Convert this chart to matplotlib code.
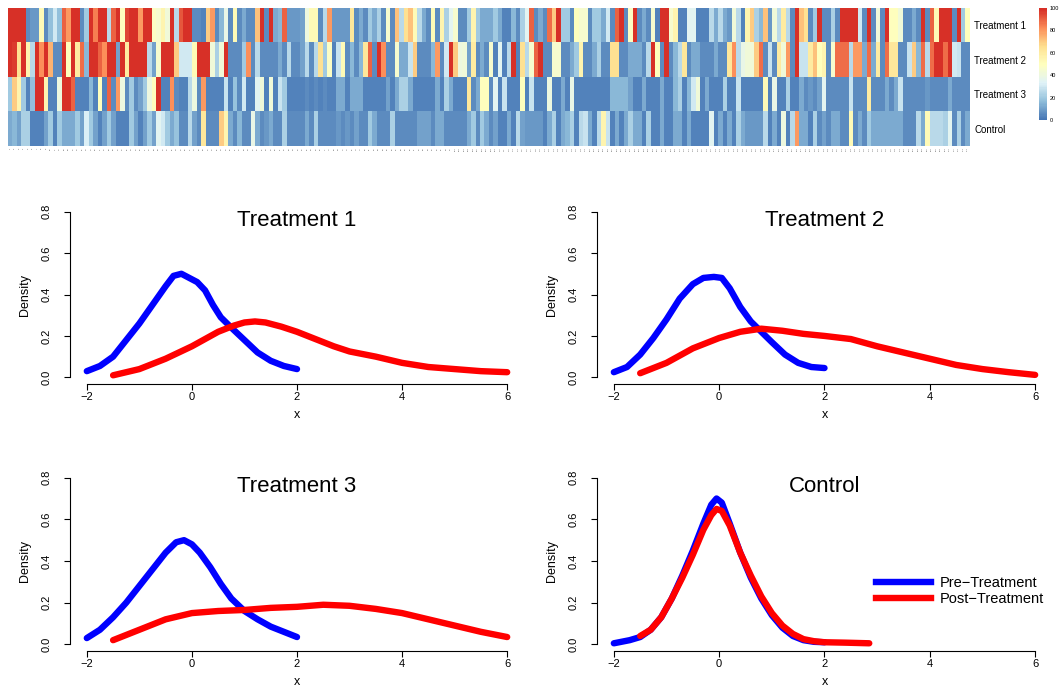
import matplotlib
matplotlib.use("Agg")
import matplotlib.pyplot as plt
import numpy as np
from matplotlib.colors import LinearSegmentedColormap
from matplotlib.lines import Line2D

plt.rcParams['font.family'] = ['Liberation Sans', 'DejaVu Sans']

# ---------------- heatmap data ----------------
row_names = ["Treatment 1", "Treatment 2", "Treatment 3", "Control"]

t1 = [100,100,100,100,5,8,8,52,5,17,30,17,90,80,100,100,5,20,100,85,100,100,25,90,100,50,95,100,100,80,100,100,48,45,55,42,
      100,25,92,100,100,5,5,3,70,80,5,15,38,5,52,5,12,5,5,72,100,5,100,12,15,90,8,8,8,10,40,52,52,5,25,80,
      8,8,8,8,62,5,12,5,20,12,22,5,45,5,72,25,65,72,52,25,12,5,52,5,55,22,35,45,5,5,20,55,20,12,12,12,
      20,12,3,3,15,5,22,35,90,5,12,5,88,70,100,20,20,5,50,45,45,5,20,20,12,30,5,90,100,5,48,100,5,12,5,45,
      3,100,100,45,55,3,3,35,35,3,3,3,25,12,25,12,8,42,25,3,55,70,22,15,72,8,42,25,60,25,5,100,72,65,5,20,
      100,5,5,22,5,100,100,100,100,30,5,100,5,42,5,100,50,50,42,5,5,12,5,100,5,90,52,100,100,100,5,100,20,50]
t2 = [100,97,65,100,55,25,100,82,100,75,5,5,100,50,100,60,88,15,100,100,90,82,100,100,10,100,60,100,100,100,100,25,10,45,100,100,
      100,70,30,30,30,52,100,100,100,42,22,42,100,5,5,5,20,82,5,25,5,5,5,5,12,5,25,5,5,10,25,5,25,65,20,48,
      3,28,52,5,15,5,15,62,90,5,100,82,5,5,45,12,12,28,70,5,5,5,15,80,5,30,100,70,40,42,10,60,5,12,5,45,
      3,35,3,25,100,3,65,25,45,90,100,5,5,45,45,5,5,12,20,55,5,5,12,22,5,5,65,65,5,5,12,12,12,5,25,100,
      50,5,100,5,15,25,62,5,12,12,5,5,5,12,5,5,62,82,25,38,42,42,70,88,5,28,5,60,42,80,5,100,28,28,60,72,
      50,55,5,45,88,88,88,25,80,80,12,88,12,60,5,88,62,62,5,5,28,70,15,88,25,88,100,100,88,100,30,28,5,5]
t3 = [20,70,55,20,3,17,100,100,55,3,3,40,100,100,90,3,3,3,15,3,50,3,90,5,80,40,5,20,5,10,20,40,50,100,3,3,
      82,5,3,3,25,40,5,80,3,3,3,3,28,3,18,5,30,3,3,35,42,3,42,3,28,20,3,3,3,3,5,3,5,3,5,3,
      3,12,12,3,12,12,12,3,3,3,3,3,10,3,12,22,22,12,3,3,3,3,3,12,3,22,12,3,3,3,62,5,12,50,50,5,
      35,3,28,3,3,3,50,3,28,3,3,3,40,3,3,12,3,38,3,3,3,3,3,3,3,3,15,15,15,15,10,3,3,12,3,3,
      3,12,3,3,15,22,3,15,30,42,3,12,3,3,3,22,3,3,28,3,3,3,3,3,52,3,38,3,3,22,3,3,12,5,8,5,
      10,35,5,5,5,5,5,28,5,5,5,60,5,5,5,12,5,12,28,5,5,5,5,5,8,5,5,5,5,12,5,5,5,5]
control = [12,15,10,22,22,3,3,3,10,20,3,20,12,12,12,20,10,32,20,10,3,10,20,10,3,3,3,20,10,3,10,20,10,35,30,20,
           12,18,5,5,25,10,5,62,5,5,5,70,55,12,5,15,5,5,38,12,5,8,12,5,5,22,5,5,5,5,12,5,22,5,5,5,
           5,8,5,8,5,10,5,5,20,12,5,5,5,22,5,5,5,5,5,10,10,10,5,12,12,5,5,5,5,5,12,20,5,20,12,5,
           10,3,3,12,3,25,10,8,8,8,8,3,12,22,3,12,15,22,3,25,28,12,3,25,55,28,3,12,3,12,22,12,12,3,22,3,
           3,12,3,3,12,12,3,12,3,3,3,3,35,3,12,3,12,3,22,12,8,8,8,8,25,3,12,3,40,3,25,80,12,12,3,22,
           5,10,5,12,12,5,5,52,5,12,5,20,12,12,12,12,12,12,12,5,5,5,25,12,52,25,25,25,22,35,5,22,5,12]
col_labels = [str(i + 1) for i in range(len(t1))]
cbar_ticks = [0, 20, 40, 60, 80, 100]

# ---------------- density data ----------------
xticks = [-2, 0, 2, 4, 6]
yticks = [0.0, 0.2, 0.4, 0.6, 0.8]
titles = ["Treatment 1", "Treatment 2", "Treatment 3", "Control"]

pre1_x = [-2.0,-1.75,-1.5,-1.25,-1.0,-0.75,-0.5,-0.35,-0.2,-0.05,0.1,0.25,0.4,0.55,0.75,1.0,1.25,1.5,1.75,2.0]
pre1_y = [0.03,0.055,0.10,0.18,0.26,0.35,0.44,0.49,0.50,0.48,0.46,0.42,0.35,0.29,0.24,0.18,0.12,0.08,0.055,0.04]
post1_x = [-1.5,-1.0,-0.5,0.0,0.5,0.8,1.0,1.2,1.4,1.7,2.0,2.3,2.7,3.0,3.5,4.0,4.5,5.0,5.5,6.0]
post1_y = [0.01,0.04,0.09,0.15,0.22,0.25,0.265,0.27,0.265,0.245,0.22,0.19,0.15,0.125,0.10,0.07,0.05,0.04,0.03,0.025]

pre2_x = [-2.0,-1.75,-1.5,-1.25,-1.0,-0.75,-0.5,-0.3,-0.1,0.05,0.2,0.4,0.6,0.8,1.0,1.25,1.5,1.75,2.0]
pre2_y = [0.025,0.05,0.11,0.19,0.28,0.38,0.45,0.48,0.485,0.48,0.43,0.34,0.27,0.22,0.17,0.11,0.07,0.05,0.045]
post2_x = [-1.5,-1.0,-0.5,0.0,0.4,0.8,1.2,1.6,2.0,2.5,3.0,3.5,4.0,4.5,5.0,5.5,6.0]
post2_y = [0.02,0.07,0.14,0.19,0.22,0.235,0.225,0.21,0.20,0.185,0.15,0.12,0.09,0.06,0.04,0.025,0.012]

pre3_x = [-2.0,-1.75,-1.5,-1.25,-1.0,-0.75,-0.5,-0.3,-0.15,0.0,0.15,0.35,0.55,0.75,1.0,1.25,1.5,1.75,2.0]
pre3_y = [0.03,0.07,0.13,0.20,0.28,0.36,0.44,0.49,0.50,0.48,0.44,0.37,0.29,0.22,0.16,0.12,0.085,0.06,0.035]
post3_x = [-1.5,-1.0,-0.5,0.0,0.5,1.0,1.5,2.0,2.5,3.0,3.5,4.0,4.5,5.0,5.5,6.0]
post3_y = [0.02,0.07,0.12,0.15,0.16,0.165,0.175,0.18,0.19,0.185,0.17,0.15,0.12,0.09,0.06,0.035]

pre4_x = [-2.0,-1.7,-1.5,-1.3,-1.1,-0.9,-0.7,-0.5,-0.3,-0.15,-0.05,0.05,0.2,0.4,0.6,0.8,1.0,1.2,1.4,1.6,1.8,2.0]
pre4_y = [0.005,0.02,0.035,0.07,0.13,0.22,0.33,0.45,0.58,0.67,0.70,0.68,0.58,0.44,0.32,0.22,0.14,0.08,0.04,0.02,0.012,0.01]
post4_x = [-1.5,-1.3,-1.1,-0.9,-0.7,-0.5,-0.3,-0.15,-0.05,0.05,0.2,0.4,0.6,0.8,1.0,1.2,1.4,1.6,1.8,2.0,2.4,2.85]
post4_y = [0.04,0.07,0.13,0.22,0.32,0.43,0.55,0.62,0.65,0.64,0.57,0.44,0.33,0.23,0.15,0.09,0.05,0.025,0.015,0.01,0.008,0.005]

W, H = 1062, 687
fig = plt.figure(figsize=(W / 100, H / 100), dpi=100)

def rect(l, t, r, b):
    return [l / W, 1 - b / H, (r - l) / W, (b - t) / H]

# ---------------- heatmap ----------------
cmap = LinearSegmentedColormap.from_list(
    "rdylbu", ["#4575B4", "#91BFDB", "#E0F3F8", "#FFFFBF", "#FEE090", "#FC8D59", "#D73027"], N=100)
mat = np.array([t1, t2, t3, control], dtype=float)
axh = fig.add_axes(rect(8, 8, 970, 146))
axh.imshow(mat, aspect="auto", cmap=cmap, vmin=0, vmax=100, interpolation="nearest")
axh.set_yticks(range(len(row_names)))
axh.set_yticklabels(row_names, fontsize=7)
axh.yaxis.tick_right()
axh.set_xticks(range(len(col_labels)))
axh.set_xticklabels(col_labels, fontsize=1.6, rotation=90, color="#444444")
axh.tick_params(length=0, pad=1)
axh.tick_params(axis="y", pad=3)
for s in axh.spines.values():
    s.set_visible(False)

axc = fig.add_axes(rect(1039, 8, 1047, 120))
grad = np.linspace(0, 100, 101).reshape(-1, 1)
axc.imshow(grad, aspect="auto", cmap=cmap, vmin=0, vmax=100, origin="lower",
           extent=[0, 1, 0, 100], interpolation="nearest")
axc.set_xticks([])
axc.yaxis.tick_right()
axc.set_yticks(cbar_ticks)
axc.set_yticklabels([str(v) for v in cbar_ticks], fontsize=4)
axc.tick_params(length=0, pad=2)
for s in axc.spines.values():
    s.set_visible(False)

# ---------------- density panels ----------------
panels = [
    (rect(70, 205, 524, 384), pre1_x, pre1_y, post1_x, post1_y),
    (rect(597, 205, 1052, 384), pre2_x, pre2_y, post2_x, post2_y),
    (rect(70, 471, 524, 651), pre3_x, pre3_y, post3_x, post3_y),
    (rect(597, 471, 1052, 651), pre4_x, pre4_y, post4_x, post4_y),
]

lw = 4.6
for i, (r, px, py, qx, qy) in enumerate(panels):
    ax = fig.add_axes(r)
    ax.plot(px, py, color="#0000FF", lw=lw, solid_capstyle="round", solid_joinstyle="round")
    ax.plot(qx, qy, color="#FF0000", lw=lw, solid_capstyle="round", solid_joinstyle="round")
    ax.set_xlim(-2.32, 6.32)
    ax.set_ylim(-0.032, 0.832)
    ax.set_xticks(xticks)
    ax.set_xticklabels([str(v).replace("-", "\u2212") for v in xticks], fontsize=8)
    ax.set_yticks(yticks)
    ax.set_yticklabels(["%.1f" % v for v in yticks], fontsize=8, rotation=90, va="center")
    ax.spines["top"].set_visible(False)
    ax.spines["right"].set_visible(False)
    ax.spines["left"].set_bounds(0, 0.8)
    ax.spines["bottom"].set_bounds(-2, 6)
    for s in ("left", "bottom"):
        ax.spines[s].set_linewidth(0.8)
    ax.tick_params(direction="out", length=4, width=0.8)
    ax.tick_params(axis="x", pad=2)
    ax.tick_params(axis="y", pad=9)
    ax.set_xlabel("x", fontsize=9, labelpad=4.5)
    ax.set_ylabel("Density", fontsize=9, labelpad=8)
    ax.text(0.5, 0.915, titles[i], transform=ax.transAxes, ha="center", va="center", fontsize=16)
    ax.patch.set_alpha(0)
    if i == 3:
        handles = [Line2D([], [], color="#0000FF", lw=lw), Line2D([], [], color="#FF0000", lw=lw)]
        ax.legend(handles, ["Pre\u2212Treatment", "Post\u2212Treatment"], frameon=False,
                  loc="upper left", bbox_to_anchor=(876 / W, 1 - 576 / H),
                  bbox_transform=fig.transFigure, borderpad=0, borderaxespad=0,
                  handlelength=3.8, handletextpad=0.55, labelspacing=0.12, fontsize=10.5)

fig.savefig("out.png", dpi=100)
